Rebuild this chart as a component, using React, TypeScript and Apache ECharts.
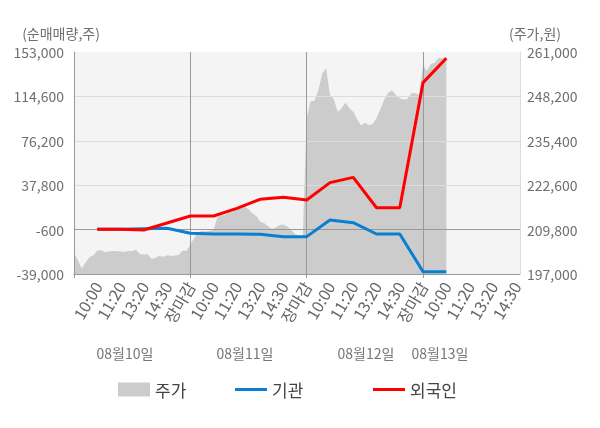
import React, { useEffect, useRef } from 'react';
import * as echarts from 'echarts';

const tickLabels = [
  '10:00', '11:20', '13:20', '14:30', '장마감',
  '10:00', '11:20', '13:20', '14:30', '장마감',
  '10:00', '11:20', '13:20', '14:30', '장마감',
  '10:00', '11:20', '13:20', '14:30',
];
const dayLabels = ['08월10일', '08월11일', '08월12일', '08월13일'];
const leftTicks = [-39000, -600, 37800, 76200, 114600, 153000];
const rightTicks = [197000, 209800, 222600, 235400, 248200, 261000];

// 주가 (price), sampled on the fine time grid
const priceValues = [
  203000, 201000, 198600, 200300, 201800, 202400, 203700, 203900, 203300, 203500,
  203600, 203600, 203500, 203400, 203600, 203600, 204000, 202800, 202600, 202700,
  201300, 201700, 202200, 202000, 202400, 202200, 202300, 202500, 203800, 203600,
  205500,
  207380, 208960, 209400, 209250, 209480, 209690, 213520, 213870, 214010, 214730,
  214960, 215650, 215940, 216460, 215740, 214500, 213720, 212080, 211700, 210840,
  209970, 210400, 211130, 211270, 210690, 209690, 208530, 207960, 207960,
  241970,
  246870, 246870, 250050, 254660, 256390, 248600, 247450, 243700, 244770, 246440,
  244770, 243790, 241690, 239810, 240620, 239960, 240240, 241890, 244570, 247310,
  249270, 249900, 248600, 247650, 247310, 247450, 249090, 249090, 248600,
  257250,
  255520, 257540, 257920, 259270, 259180, 259560,
];
// 기관 / 외국인 cumulative net buying, at each labelled time
const institutionValues = [
  -300, -300, 200, 500, -3800, -4400, -4400, -4700, -6700, -6700, 7700, 5400, -4400, -4400, -37000, -37000,
];
const foreignValues = [
  -300, -300, -900, 5100, 11200, 11200, 17800, 25600, 27300, 25000, 40000, 44600, 18300, 18300, 126500, 147600,
];

const SUB = 6; // fine slots per labelled step
const SLOTS = tickLabels.length * SUB + 2;
const FONT = '"Noto Sans CJK KR", "Noto Sans", sans-serif';

const fmt = (v: number) => Math.round(v).toLocaleString('en-US');

export default function App() {
  const ref = useRef<HTMLDivElement>(null);
  useEffect(() => {
    if (!ref.current) return;
    const chart = echarts.init(ref.current, null, { renderer: 'svg' });
    const lBase = leftTicks[0];
    const lInt = leftTicks[1] - leftTicks[0];
    const rBase = rightTicks[0];
    const rInt = rightTicks[1] - rightTicks[0];
    const cats = Array.from({ length: SLOTS }, (_, j) => String(j));
    const labelOf = (j: number) => (j > 0 && j % SUB === 0 ? tickLabels[j / SUB - 1] ?? '' : '');
    const priceData = cats.map((_, j) => (j < priceValues.length ? priceValues[j] - rBase : null));
    const lineData = (vals: number[]) =>
      cats.map((_, j) => {
        if (j > 0 && j % SUB === 0) {
          const k = j / SUB - 1;
          if (k < vals.length) return vals[k] - lBase;
        }
        return null;
      });
    const legendText = { fontSize: 17, color: '#444', fontFamily: FONT };

    const option: any = {
      animation: false,
      textStyle: { fontFamily: FONT },
      grid: {
        left: 74,
        right: 80,
        top: 52,
        bottom: 154,
        show: true,
        backgroundColor: '#f4f4f4',
        borderWidth: 0,
      },
      xAxis: {
        type: 'category',
        data: cats,
        boundaryGap: false,
        z: 3,
        axisLine: { show: true, lineStyle: { color: '#999' } },
        axisTick: {
          show: true,
          interval: (i: number) => i % (SUB * 5) === 0,
          length: 4,
          lineStyle: { color: '#999' },
        },
        splitLine: {
          show: true,
          interval: (i: number) => i > 0 && i % (SUB * 5) === 0,
          lineStyle: { color: '#999' },
        },
        axisLabel: {
          interval: (i: number) => i > 0 && i % SUB === 0,
          rotate: 60,
          margin: 9,
          fontSize: 16,
          fontFamily: FONT,
          formatter: (_v: string, i: number) => labelOf(i),
          color: (_v: string, i: number) => {
            const t = labelOf(i);
            if (t === '장마감') return '#ff0000';
            if (i === 16 * SUB) return '#222';
            return '#666';
          },
        },
      },
      yAxis: [
        {
          type: 'value',
          min: 0,
          max: leftTicks[leftTicks.length - 1] - lBase,
          interval: lInt,
          z: 3,
          axisLine: { show: true, lineStyle: { color: '#999' } },
          axisTick: { show: false },
          axisLabel: {
            fontSize: 14,
            color: '#6f6f6f',
            margin: 10,
            fontFamily: FONT,
            formatter: (v: number) => fmt(v + lBase),
          },
          splitLine: {
            show: true,
            showMaxLine: false,
            lineStyle: { color: ['#999', '#999', '#ddd', '#ddd', '#ddd', 'rgba(0,0,0,0)'] },
          },
        },
        {
          type: 'value',
          min: 0,
          max: rightTicks[rightTicks.length - 1] - rBase,
          interval: rInt,
          position: 'right',
          z: 3,
          axisLine: { show: true, lineStyle: { color: '#ddd' } },
          axisTick: { show: false },
          axisLabel: {
            fontSize: 14,
            color: '#6f6f6f',
            margin: 7,
            fontFamily: FONT,
            formatter: (v: number) => fmt(v + rBase),
          },
          splitLine: { show: false },
        },
      ],
      legend: [
        {
          left: 113,
          top: 376,
          itemWidth: 32,
          itemHeight: 14,
          textStyle: legendText,
          data: [{ name: '주가', icon: 'rect' }],
        },
        {
          left: 230,
          top: 376,
          itemWidth: 32,
          itemHeight: 3,
          textStyle: legendText,
          data: [{ name: '기관', icon: 'rect' }],
        },
        {
          left: 368,
          top: 376,
          itemWidth: 32,
          itemHeight: 3,
          textStyle: legendText,
          data: [{ name: '외국인', icon: 'rect' }],
        },
      ],
      graphic: [
        { type: 'text', x: 61, y: 33, style: { text: '(순매매량,주)', fill: '#6f6f6f', fontSize: 14, fontFamily: FONT, textAlign: 'center', textVerticalAlign: 'middle' } },
        { type: 'text', x: 535, y: 33, style: { text: '(주가,원)', fill: '#6f6f6f', fontSize: 14, fontFamily: FONT, textAlign: 'center', textVerticalAlign: 'middle' } },
        ...dayLabels.map((d, k) => ({
          type: 'text',
          x: [125, 245, 366, 440][k],
          y: 353,
          style: { text: d, fill: '#777', fontSize: 14, fontFamily: FONT, textAlign: 'center', textVerticalAlign: 'middle' },
        })),
      ],
      series: [
        {
          name: '주가',
          type: 'line',
          yAxisIndex: 1,
          data: priceData,
          symbol: 'none',
          z: 2,
          itemStyle: { color: '#cccccc' },
          lineStyle: { width: 0, color: '#cccccc' },
          areaStyle: { color: '#cccccc', opacity: 1 },
        },
        {
          name: '기관',
          type: 'line',
          yAxisIndex: 0,
          data: lineData(institutionValues),
          connectNulls: true,
          symbol: 'none',
          z: 5,
          itemStyle: { color: '#0a7fcf' },
          lineStyle: { width: 3, color: '#0a7fcf' },
        },
        {
          name: '외국인',
          type: 'line',
          yAxisIndex: 0,
          data: lineData(foreignValues),
          connectNulls: true,
          symbol: 'none',
          z: 6,
          itemStyle: { color: '#ff0000' },
          lineStyle: { width: 3, color: '#ff0000' },
        },
      ],
    };
    chart.setOption(option);
    return () => chart.dispose();
  }, []);
  return <div ref={ref} style={{ position: 'fixed', left: 0, top: 0, width: 600, height: 428 }} />;
}
